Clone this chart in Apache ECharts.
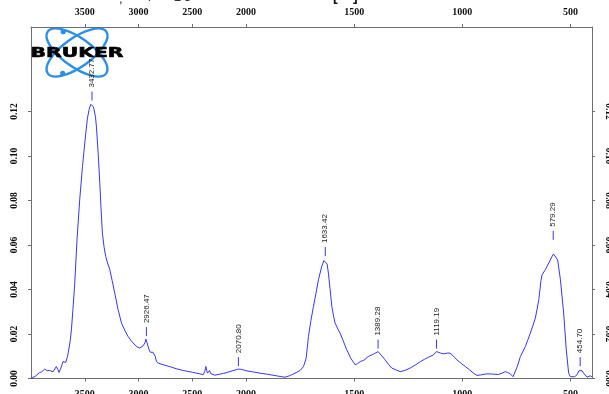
<!DOCTYPE html>
<html>
<head>
<meta charset="utf-8">
<script src="https://cdn.jsdelivr.net/npm/echarts@6/dist/echarts.min.js"></script>
<style>html,body{margin:0;padding:0;background:#fff;}#c{width:609px;height:394px;}</style>
</head>
<body>
<div id="c"></div>
<script>
// Wavenumbers (cm-1) and absorbance
var wavenumbers = [4000,3960,3919,3900,3873,3850,3826,3810,3795,3764,3750,3739,3720,3702,3677,3660,3646,3635,3624,3610,3593,3572,3547,3521,3491,3475,3460,3445,3433,3420,3413,3400,3391,3375,3360,3348,3336,3320,3305,3285,3267,3245,3221,3190,3158,3125,3097,3065,3034,3010,2988,2970,2957,2940,2931,2920,2903,2890,2879,2865,2857,2845,2832,2810,2771,2700,2650,2584,2500,2429,2398,2385,2373,2365,2357,2348,2339,2328,2316,2290,2250,2210,2176,2130,2090,2071,2052,2020,2000,1970,1935,1900,1858,1835,1819,1800,1788,1765,1750,1734,1722,1711,1700,1688,1676,1665,1650,1640,1633,1625,1619,1611,1603,1595,1588,1575,1565,1550,1534,1515,1495,1485,1472,1455,1434,1410,1389,1375,1357,1340,1326,1305,1287,1265,1241,1215,1194,1175,1156,1135,1119,1100,1086,1070,1056,1040,1025,1005,986,965,948,932,915,886,860,832,815,801,790,778,765,757,745,731,708,685,662,646,636,631,616,600,585,578,570,559,546,531,519,508,500,492,480,469,460,454,446,439,423,415,408,400];
var absorbance = [0.0000,0.0010,0.0027,0.0030,0.0042,0.0035,0.0036,0.0040,0.0030,0.0054,0.0040,0.0027,0.0050,0.0076,0.0072,0.0100,0.0137,0.0170,0.0219,0.0310,0.0429,0.0623,0.0803,0.0953,0.1100,0.1170,0.1208,0.1232,0.1236,0.1222,0.1208,0.1175,0.1130,0.1010,0.0878,0.0760,0.0653,0.0590,0.0548,0.0515,0.0489,0.0440,0.0384,0.0310,0.0249,0.0214,0.0189,0.0168,0.0151,0.0141,0.0137,0.0140,0.0147,0.0160,0.0177,0.0160,0.0132,0.0118,0.0114,0.0118,0.0121,0.0100,0.0076,0.0068,0.0062,0.0052,0.0044,0.0036,0.0028,0.0021,0.0017,0.0030,0.0054,0.0035,0.0024,0.0032,0.0036,0.0022,0.0015,0.0015,0.0019,0.0023,0.0027,0.0034,0.0040,0.0042,0.0042,0.0038,0.0035,0.0030,0.0024,0.0019,0.0012,0.0008,0.0006,0.0012,0.0017,0.0028,0.0036,0.0054,0.0090,0.0189,0.0260,0.0324,0.0385,0.0444,0.0503,0.0530,0.0537,0.0515,0.0474,0.0400,0.0324,0.0280,0.0249,0.0222,0.0204,0.0168,0.0129,0.0090,0.0062,0.0066,0.0076,0.0082,0.0099,0.0110,0.0121,0.0105,0.0084,0.0062,0.0047,0.0038,0.0031,0.0036,0.0047,0.0062,0.0076,0.0086,0.0096,0.0105,0.0121,0.0114,0.0111,0.0114,0.0114,0.0100,0.0084,0.0068,0.0054,0.0038,0.0024,0.0014,0.0016,0.0021,0.0020,0.0018,0.0024,0.0031,0.0027,0.0021,0.0008,0.0000,0.0055,0.0099,0.0144,0.0204,0.0271,0.0354,0.0440,0.0466,0.0489,0.0519,0.0548,0.0560,0.0558,0.0533,0.0444,0.0294,0.0129,0.0024,0.0008,0.0002,0.0008,0.0017,0.0035,0.0042,0.0035,0.0024,0.0006,0.0010,0.0012,0.0008];

// Peak picks (wavenumber) and the absorbance level where each marker sits
var peakPositions = [3432.77, 2926.47, 2070.80, 1633.42, 1389.28, 1119.19, 579.29, 454.70];
var peakLevels    = [0.1236, 0.0177, 0.0042, 0.0537, 0.0121, 0.0121, 0.0610, 0.0042];

var topTicks = [3500, 3000, 2500, 2000];
var lowTicks = [1500, 1000, 500];
var yTicks = [0, 0.02, 0.04, 0.06, 0.08, 0.10, 0.12];

var spectrum = wavenumbers.map(function (w, i) { return [w, absorbance[i]]; });
var specHigh = spectrum.filter(function (p) { return p[0] >= 2000; });
var specLow = spectrum.filter(function (p) { return p[0] <= 2000; });
var peaks = peakPositions.map(function (w, i) { return [w, peakLevels[i]]; });
var peaksHigh = peaks.filter(function (p) { return p[0] > 2000; });
var peaksLow = peaks.filter(function (p) { return p[0] <= 2000; });

var axisColor = '#6e6e6e';
var serifFont = '"Liberation Serif", "Times New Roman", serif';
var lineColor = '#3535ff';

function xAxisDef(grid, pos, min, max, ticks) {
  return {
    gridIndex: grid, type: 'value', position: pos, inverse: true, min: min, max: max,
    axisLine: { show: true, onZero: false, lineStyle: { color: axisColor, width: 1 } },
    axisTick: { show: true, length: 3, customValues: ticks, lineStyle: { color: axisColor } },
    axisLabel: {
      show: true, customValues: ticks, margin: pos === 'top' ? 10 : 11,
      fontFamily: serifFont, fontWeight: 'bold', fontSize: 10, color: '#111',
      formatter: function (v) { return String(v); }
    },
    splitLine: { show: false }
  };
}
function yAxisDef(grid, pos) {
  return {
    gridIndex: grid, type: 'value', position: pos, min: 0, max: 0.158,
    axisLine: { show: true, onZero: false, lineStyle: { color: axisColor, width: 1 } },
    axisTick: { show: true, length: 3, customValues: yTicks, lineStyle: { color: axisColor } },
    axisLabel: {
      show: true, customValues: yTicks, rotate: pos === 'left' ? 90 : -90, margin: 11,
      fontFamily: serifFont, fontWeight: 'bold', fontSize: 9.5, color: '#111',
      formatter: function (v) { return v.toFixed(2); }
    },
    splitLine: { show: false }
  };
}

function peakRender(params, api) {
  var w = api.value(0);
  var p = api.coord([w, api.value(1)]);
  return {
    type: 'group',
    children: [
      { type: 'line', shape: { x1: p[0], y1: p[1] - 3, x2: p[0], y2: p[1] - 12 },
        style: { stroke: lineColor, lineWidth: 1 } },
      { type: 'text', x: p[0], y: p[1] - 16, rotation: Math.PI / 2,
        style: { text: w.toFixed(2), font: '8px "Liberation Sans", Arial, sans-serif', fill: '#222',
                 align: 'left', verticalAlign: 'middle' } }
    ]
  };
}

var chart = echarts.init(document.getElementById('c'), null, { renderer: 'canvas' });
chart.setOption({
  animation: false,
  backgroundColor: '#ffffff',
  grid: [
    { left: 31, width: 215, top: 27, bottom: 15.5, containLabel: false, outerBoundsMode: 'none' },
    { left: 246, width: 346, top: 27, bottom: 15.5, containLabel: false, outerBoundsMode: 'none' }
  ],
  xAxis: [
    xAxisDef(0, 'bottom', 2000, 4000, topTicks),
    xAxisDef(0, 'top', 2000, 4000, topTicks),
    xAxisDef(1, 'bottom', 400, 2000, lowTicks),
    xAxisDef(1, 'top', 400, 2000, lowTicks)
  ],
  yAxis: [
    yAxisDef(0, 'left'),
    yAxisDef(1, 'right')
  ],
  series: [
    { type: 'line', xAxisIndex: 0, yAxisIndex: 0, data: specHigh, showSymbol: false, symbol: 'none',
      lineStyle: { color: lineColor, width: 1 }, z: 3 },
    { type: 'line', xAxisIndex: 2, yAxisIndex: 1, data: specLow, showSymbol: false, symbol: 'none',
      lineStyle: { color: lineColor, width: 1 }, z: 3 },
    { type: 'custom', xAxisIndex: 0, yAxisIndex: 0, data: peaksHigh, renderItem: peakRender, z: 4, clip: false },
    { type: 'custom', xAxisIndex: 2, yAxisIndex: 1, data: peaksLow, renderItem: peakRender, z: 4, clip: false }
  ],
  graphic: [
    // cut-off header fragments at the very top
    { type: 'text', left: 119, top: -7, style: { text: ',', font: '13px "Liberation Sans", Arial', fill: '#333' } },
    { type: 'text', left: 148, top: -9, style: { text: 'l', font: '13px "Liberation Sans", Arial', fill: '#333' } },
    { type: 'text', left: 174, top: -9, style: { text: '2', font: '13px "Liberation Sans", Arial', fill: '#333' } },
    { type: 'text', left: 184, top: -9, style: { text: '3', font: '13px "Liberation Sans", Arial', fill: '#333' } },
    { type: 'text', left: 333, top: -10, style: { text: '[', font: 'bold 14px "Liberation Sans", Arial', fill: '#111' } },
    { type: 'text', left: 353, top: -10, style: { text: ']', font: 'bold 14px "Liberation Sans", Arial', fill: '#111' } },
    // Bruker logo
    {
      type: 'group', x: 77, y: 52.5, z: 100,
      children: [
        { type: 'ellipse', rotation: 0.62, shape: { cx: 0, cy: 0, rx: 36, ry: 14.5 },
          style: { fill: 'none', stroke: '#2b8ee8', lineWidth: 2.4 } },
        { type: 'ellipse', rotation: -0.62, shape: { cx: 0, cy: 0, rx: 36, ry: 14.5 },
          style: { fill: 'none', stroke: '#2b8ee8', lineWidth: 2.4 } },
        { type: 'circle', shape: { cx: -13.8, cy: -20.8, r: 2.6 }, style: { fill: '#2b8ee8' } },
        { type: 'circle', shape: { cx: -14.3, cy: 20.8, r: 2.6 }, style: { fill: '#2b8ee8' } },
        { type: 'text', x: 0, y: 1, scaleX: 1.45, z2: 10,
          style: { text: 'BRUKER', font: '900 14px "DejaVu Sans", Arial, sans-serif', fill: '#000',
                   stroke: '#000', lineWidth: 0.6, align: 'center', verticalAlign: 'middle' } }
      ]
    }
  ]
});
</script>
</body>
</html>
